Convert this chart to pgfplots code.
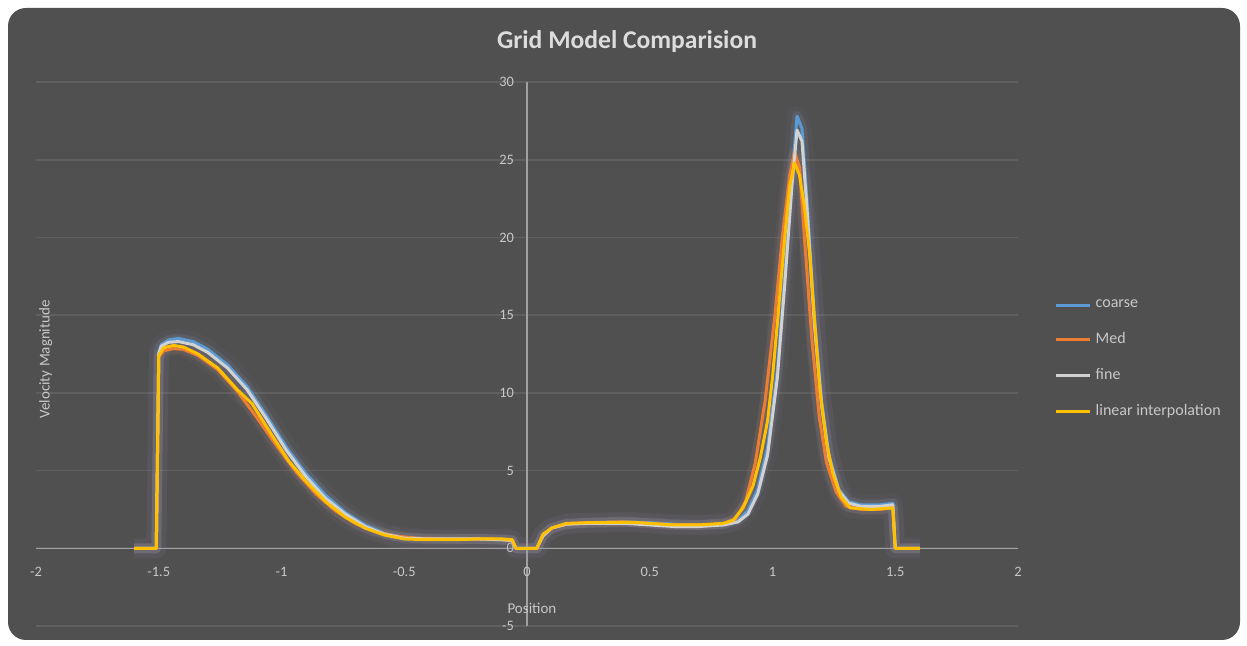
\documentclass[border=0pt]{standalone}
\usepackage{fontspec}
\setmainfont{Carlito}
\usepackage{pgfplots}
\pgfplotsset{compat=1.18}
\usepackage{pgfplotstable}
\definecolor{bg}{HTML}{505050}
\definecolor{gridc}{HTML}{5F5F5F}
\definecolor{axc}{HTML}{A0A0A0}
\definecolor{txt}{HTML}{C8C8C8}
\definecolor{ttl}{HTML}{DCDCDC}
\definecolor{cCoarse}{HTML}{5B9BD5}
\definecolor{cMed}{HTML}{ED7D31}
\definecolor{cFine}{HTML}{D2D2D2}
\definecolor{cLin}{HTML}{FFC000}
\definecolor{glowA}{HTML}{8C86B8}
\definecolor{glowB}{HTML}{B08A9A}

\pgfplotstableread{
x y
-1.60 0
-1.51 0
-1.50 12.6
-1.49 13.1
-1.46 13.4
-1.42 13.5
-1.36 13.3
-1.30 12.8
-1.22 11.8
-1.14 10.4
-1.06 8.5
-0.98 6.5
-0.90 4.8
-0.82 3.4
-0.74 2.3
-0.66 1.5
-0.58 0.95
-0.50 0.7
-0.40 0.6
-0.30 0.6
-0.20 0.6
-0.10 0.55
-0.06 0.5
-0.045 0
0.04 0
0.065 0.8
0.10 1.3
0.16 1.55
0.25 1.65
0.40 1.7
0.50 1.65
0.60 1.55
0.70 1.5
0.80 1.55
0.86 1.8
0.90 2.4
0.94 3.8
0.98 6.5
1.02 11.5
1.05 17.5
1.08 24
1.10 27.8
1.12 27
1.14 22.5
1.17 15
1.20 9.5
1.23 6
1.27 3.8
1.31 3.0
1.36 2.8
1.44 2.8
1.49 2.9
1.50 0
1.60 0
}\tCoarse

\pgfplotstableread{
x y
-1.60 0
-1.51 0
-1.50 12.3
-1.48 12.7
-1.44 12.85
-1.40 12.8
-1.34 12.4
-1.26 11.5
-1.18 10.1
-1.10 8.4
-1.02 6.6
-0.94 4.9
-0.86 3.5
-0.78 2.4
-0.70 1.6
-0.62 1.1
-0.54 0.8
-0.45 0.65
-0.30 0.6
-0.15 0.6
-0.06 0.5
-0.045 0
0.04 0
0.065 0.8
0.10 1.3
0.16 1.55
0.25 1.65
0.40 1.7
0.50 1.6
0.60 1.5
0.70 1.5
0.80 1.6
0.85 1.9
0.89 3.0
0.93 5.5
0.97 9.5
1.01 15
1.04 20
1.07 24
1.09 25.5
1.11 24.5
1.13 20
1.16 13.5
1.19 8.5
1.22 5.5
1.26 3.6
1.30 2.7
1.36 2.5
1.44 2.5
1.49 2.6
1.50 0
1.60 0
}\tMed

\pgfplotstableread{
x y
-1.60 0
-1.51 0
-1.50 12.5
-1.49 13.0
-1.46 13.25
-1.42 13.3
-1.36 13.1
-1.30 12.6
-1.22 11.6
-1.14 10.2
-1.06 8.3
-0.98 6.3
-0.90 4.6
-0.82 3.2
-0.74 2.2
-0.66 1.4
-0.58 0.9
-0.50 0.65
-0.40 0.6
-0.30 0.6
-0.20 0.6
-0.10 0.55
-0.06 0.5
-0.045 0
0.04 0
0.065 0.8
0.10 1.3
0.16 1.55
0.25 1.6
0.40 1.6
0.50 1.5
0.60 1.4
0.70 1.4
0.80 1.5
0.86 1.7
0.90 2.2
0.94 3.5
0.98 6.0
1.02 11
1.05 17
1.08 23.5
1.10 26.9
1.12 26.2
1.14 22
1.17 14.5
1.20 9.2
1.23 5.8
1.27 3.7
1.31 2.9
1.36 2.7
1.44 2.7
1.49 2.8
1.50 0
1.60 0
}\tFine

\pgfplotstableread{
x y
-1.60 0
-1.51 0
-1.50 12.4
-1.48 12.9
-1.44 13.05
-1.40 12.95
-1.34 12.5
-1.26 11.6
-1.18 10.2
-1.12 9.3
-1.04 7.3
-0.97 5.6
-0.90 4.3
-0.82 3.0
-0.74 2.0
-0.66 1.3
-0.58 0.85
-0.50 0.6
-0.40 0.55
-0.30 0.55
-0.20 0.6
-0.10 0.6
-0.06 0.55
-0.045 0
0.04 0
0.065 0.9
0.10 1.3
0.16 1.6
0.25 1.65
0.43 1.67
0.50 1.6
0.60 1.5
0.70 1.5
0.80 1.6
0.84 1.8
0.88 2.6
0.92 4.0
0.95 5.8
0.98 8.2
1.00 11
1.02 14.5
1.05 20
1.07 23.3
1.09 24.8
1.11 24
1.13 22
1.153 18.7
1.17 15
1.193 10.2
1.22 6.8
1.246 4.8
1.28 3.3
1.316 2.6
1.40 2.5
1.49 2.6
1.50 0
1.60 0
}\tLin

\begin{document}
\begin{tikzpicture}
\fill[white] (0,0) rectangle (623.5pt,323pt);
\fill[bg, rounded corners=9pt] (4pt,3pt) rectangle (620pt,319pt);
\begin{axis}[
  at={(18pt,10pt)}, anchor=south west,
  scale only axis, width=491pt, height=272pt,
  xmin=-2, xmax=2, ymin=-5, ymax=30,
  axis lines=middle,
  axis line style={-, axc, line width=0.7pt},
  xtick={-2,-1.5,-1,-0.5,0,0.5,1,1.5,2},
  ytick={-5,0,5,10,15,20,25,30},
  ymajorgrids,
  grid style={gridc, line width=0.9pt},
  major tick length=0pt,
  hide obscured x ticks=false, hide obscured y ticks=false,
  tick label style={font=\fontsize{7.2}{8}\selectfont, text=txt},
  /pgf/number format/assume math mode=true,
  xticklabel style={yshift=-6pt},
  yticklabel style={xshift=-3pt},
  xlabel={Position},
  xlabel style={at={(axis description cs:0.505,0.032)}, anchor=center, font=\fontsize{7.5}{9}\selectfont, text=txt},
  ylabel={Velocity Magnitude},
  ylabel style={at={(axis description cs:0.01,0.49)}, anchor=center, rotate=90, font=\fontsize{7.5}{9}\selectfont, text=txt},
  legend style={at={(axis description cs:1.037,0.49)}, anchor=west, draw=none, fill=none,
    font=\fontsize{8}{9}\selectfont, text=txt, row sep=7pt, inner sep=0pt,
    cells={anchor=west}},
  legend image code/.code={\draw[#1] (0pt,0pt) -- (17pt,0pt);},
  every axis plot/.append style={line join=round},
]
\addplot[forget plot, glowA, line width=10pt, opacity=0.06] table {\tCoarse};
\addplot[forget plot, glowB, line width=10pt, opacity=0.06] table {\tLin};
\addplot[forget plot, cCoarse!60!white, line width=5pt, opacity=0.10] table {\tCoarse};
\addplot[forget plot, cMed!60!white, line width=5pt, opacity=0.08] table {\tMed};
\addplot[forget plot, glowA, line width=5pt, opacity=0.10] table {\tLin};
\addplot[cCoarse, line width=1.5pt] table {\tCoarse};
\addlegendentry{coarse}
\addplot[cMed, line width=1.5pt] table {\tMed};
\addlegendentry{Med}
\addplot[cFine, line width=1.5pt] table {\tFine};
\addlegendentry{fine}
\addplot[cLin, line width=1.5pt] table {\tLin};
\addlegendentry{linear interpolation}
\end{axis}
\node[font=\bfseries\fontsize{12.8}{15}\selectfont, text=ttl] at (313.5pt,302pt) {Grid Model Comparision};
\pgfresetboundingbox
\useasboundingbox (0,0) rectangle (623.5pt,323pt);
\end{tikzpicture}
\end{document}
